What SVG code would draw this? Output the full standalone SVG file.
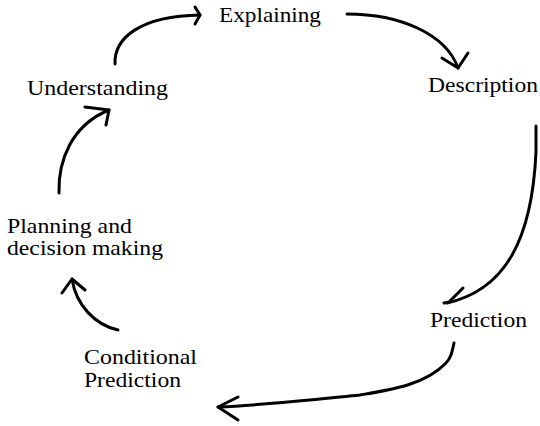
<svg xmlns="http://www.w3.org/2000/svg" width="540" height="426" viewBox="0 0 540 426">
  <style>
    .lbl { font-family: "Liberation Serif", "DejaVu Serif", serif; font-size: 21px; fill: #000; }
    .arc { fill: none; stroke: #000; stroke-width: 3; stroke-linecap: round; stroke-linejoin: round; }
  </style>
  <rect width="540" height="426" fill="#fff"/>

  <!-- stages of the cycle -->
  <g id="explaining">
    <text class="lbl" x="219" y="22" textLength="102" lengthAdjust="spacingAndGlyphs">Explaining</text>
  </g>
  <g id="description">
    <text class="lbl" x="428" y="92" textLength="110" lengthAdjust="spacingAndGlyphs">Description</text>
  </g>
  <g id="prediction">
    <text class="lbl" x="430" y="327" textLength="97" lengthAdjust="spacingAndGlyphs">Prediction</text>
  </g>
  <g id="conditional-prediction">
    <text class="lbl" x="84" y="364" textLength="113" lengthAdjust="spacingAndGlyphs">Conditional</text>
    <text class="lbl" x="84" y="387" textLength="97" lengthAdjust="spacingAndGlyphs">Prediction</text>
  </g>
  <g id="planning">
    <text class="lbl" x="7" y="233" textLength="125" lengthAdjust="spacingAndGlyphs">Planning and</text>
    <text class="lbl" x="7" y="255" textLength="156" lengthAdjust="spacingAndGlyphs">decision making</text>
  </g>
  <g id="understanding">
    <text class="lbl" x="27" y="95" textLength="141" lengthAdjust="spacingAndGlyphs">Understanding</text>
  </g>

  <!-- hand-drawn connectors -->
  <g id="connectors">
    <!-- Understanding to Explaining -->
    <path class="arc" d="M115,64 C114,38 140,16 200,15"/>
    <path class="arc" d="M195,7 L200,15 L195,24"/>
    <!-- Explaining to Description -->
    <path class="arc" d="M347,14 C400,14 446,34 458,68"/>
    <path class="arc" d="M442,58 L458,68 L468,53"/>
    <!-- Description to Prediction -->
    <path class="arc" d="M536,126 L536,152 C532,240 505,290 447,303"/>
    <path class="arc" d="M463,288 L449,302 L444,303"/>
    <!-- Prediction to Conditional Prediction -->
    <path class="arc" d="M454,343 C452,352 451,358 446,363 C425,385 390,390 360,395 C310,400 265,405 218,407"/>
    <path class="arc" d="M238,397 L218,407 L238,420"/>
    <!-- Conditional Prediction to Planning -->
    <path class="arc" d="M118,330 C95,325 76,305 72,279"/>
    <path class="arc" d="M62,293 L72,279 L85,290"/>
    <!-- Planning to Understanding -->
    <path class="arc" d="M59,193 C58,160 72,125 109,110"/>
    <path class="arc" d="M85,107 L109,110 L106,125"/>
  </g>
</svg>
